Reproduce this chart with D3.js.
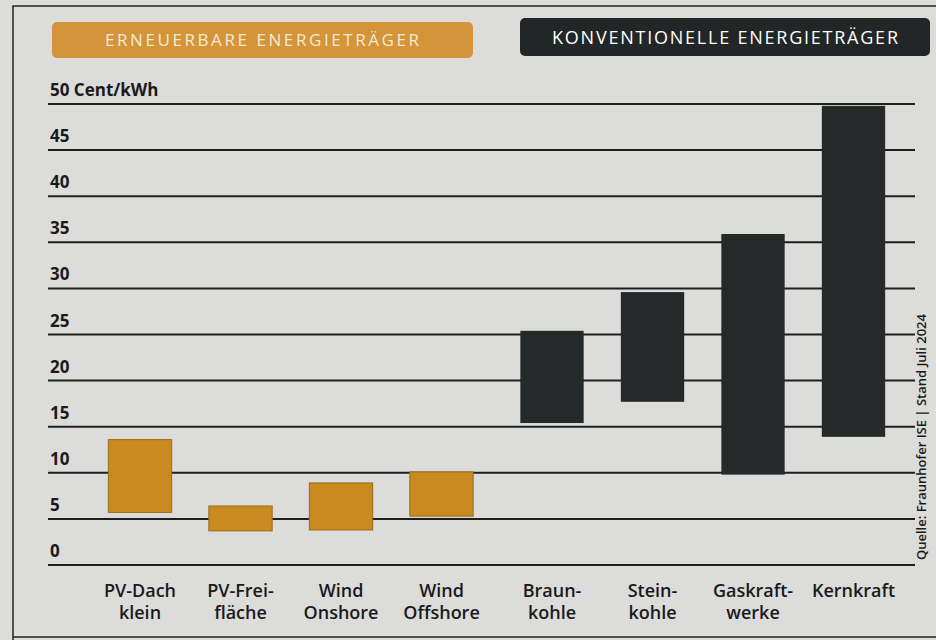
<!DOCTYPE html>
<html>
<head>
<meta charset="utf-8">
<script src="https://cdn.jsdelivr.net/npm/d3@7"></script>
<style>
body{margin:0;background:#dcdcdb}
svg{display:block;font-family:"Open Sans",sans-serif}
</style>
</head>
<body>
<svg width="936" height="640"></svg>
<script>
// Stromgestehungskosten, Cent/kWh (Spanne min - max)
const kategorien=["PV-Dach klein","PV-Freifläche","Wind Onshore","Wind Offshore","Braunkohle","Steinkohle","Gaskraftwerke","Kernkraft"]
const zeilen=[["PV-Dach","klein"],["PV-Frei-","fläche"],["Wind","Onshore"],["Wind","Offshore"],["Braun-","kohle"],["Stein-","kohle"],["Gaskraft-","werke"],["Kernkraft"]]
const gruppe=["ee","ee","ee","ee","konv","konv","konv","konv"]
const minWert=[5.7,3.7,3.8,5.3,15.4,17.7,9.8,13.9]
const maxWert=[13.6,6.4,8.9,10.1,25.4,29.6,35.9,49.8]
const ticks=[0,5,10,15,20,25,30,35,40,45,50]

const farbe={ee:"#c98a20",konv:"#252929"}
const svg=d3.select("svg")

// rahmen
svg.append("path").attr("d","M13,640 L13,6 L936,6").attr("fill","none").attr("stroke","#222").attr("stroke-width",1.5)
svg.append("line").attr("x1",13).attr("x2",936).attr("y1",637).attr("y2",637).attr("stroke","#222").attr("stroke-width",1.5)

// kopf
svg.append("rect").attr("x",52).attr("y",22).attr("width",421).attr("height",36).attr("rx",5).attr("fill","#d3943a")
svg.append("text").attr("x",262).attr("y",46).attr("text-anchor","middle").attr("fill","#f4ead2")
 .attr("font-size",17).attr("textLength",314).attr("lengthAdjust","spacing").text("ERNEUERBARE ENERGIETRÄGER")
svg.append("rect").attr("x",520).attr("y",18).attr("width",410).attr("height",38).attr("rx",5).attr("fill","#222626")
svg.append("text").attr("x",725).attr("y",44).attr("text-anchor","middle").attr("fill","#fff")
 .attr("font-size",18).attr("textLength",346).attr("lengthAdjust","spacing").text("KONVENTIONELLE ENERGIETRÄGER")

const y=d3.scaleLinear().domain([0,50]).range([565,104])
const x=d3.scaleBand().domain(kategorien).range([94.75,898.75]).paddingInner(0.37).paddingOuter(0.185)
const versatz=i=>gruppe[i]==="ee"?-5:5

// gitter
svg.append("g").selectAll("line").data(ticks).join("line")
 .attr("x1",48).attr("x2",915).attr("y1",d=>y(d)).attr("y2",d=>y(d))
 .attr("stroke","#1e1e1e").attr("stroke-width",2)
svg.append("g").selectAll("text").data(ticks).join("text")
 .attr("x",50).attr("y",d=>y(d)-8).attr("font-size",17).attr("font-weight",700).attr("fill","#1a1a1a")
 .text(d=>d===50?"50 Cent/kWh":d)

// balken
svg.append("g").selectAll("rect").data(kategorien).join("rect")
 .attr("x",(d,i)=>x(d)+versatz(i)).attr("width",x.bandwidth())
 .attr("y",(d,i)=>y(maxWert[i])).attr("height",(d,i)=>y(minWert[i])-y(maxWert[i]))
 .attr("fill",(d,i)=>farbe[gruppe[i]])
 .attr("stroke",(d,i)=>gruppe[i]==="ee"?"#9a6a18":"none").attr("stroke-width",1)

// beschriftung
const lab=svg.append("g").selectAll("text").data(kategorien).join("text")
 .attr("text-anchor","middle").attr("font-size",18).attr("font-weight",600).attr("fill","#1a1a1a")
lab.each(function(d,i){
 const cx=x(d)+x.bandwidth()/2+versatz(i)
 d3.select(this).selectAll("tspan").data(zeilen[i]).join("tspan")
  .attr("x",cx).attr("y",(t,j)=>597+j*22).text(t=>t)
})

// quelle
svg.append("text").attr("transform","translate(926,560) rotate(-90)")
 .attr("font-size",13).attr("font-weight",600).attr("fill","#1a1a1a")
 .text("Quelle: Fraunhofer ISE | Stand Juli 2024")
</script>
</body>
</html>
